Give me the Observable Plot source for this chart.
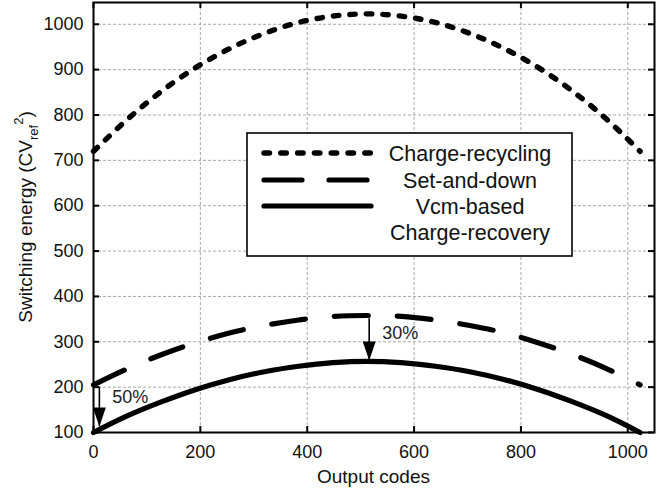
<!DOCTYPE html>
<html>
<head>
<meta charset="utf-8">
<script src="https://cdn.jsdelivr.net/npm/d3@7"></script>
<script src="https://cdn.jsdelivr.net/npm/@observablehq/plot@0.6"></script>
<style>
  html, body { margin: 0; padding: 0; background: #fff; }
  #chart svg { display: block; }
</style>
</head>
<body>
<div id="chart"></div>
<script>
// ---- data ----
const codes      = [0, 64, 128, 192, 256, 320, 384, 448, 512, 576, 640, 704, 768, 832, 896, 960, 1023];
const recycling  = [720, 791, 853, 905, 947, 980, 1004, 1018, 1023, 1018, 1004, 980, 947, 905, 853, 791, 720];
const setAndDown = [205, 241, 272, 298, 320, 336, 348, 356, 358, 356, 348, 336, 320, 298, 272, 241, 205];
const vcmBased   = [100, 137, 168, 195, 217, 234, 246, 254, 257, 254, 246, 234, 217, 195, 168, 137, 100];

const seriesNames = ["Charge-recycling", "Set-and-down", "Vcm-based", "Charge-recovery"];
const xTicks = [0, 200, 400, 600, 800, 1000];
const yTicks = [100, 200, 300, 400, 500, 600, 700, 800, 900, 1000];

// annotations: arrows (x code, start value, tip value) and labels
const arrowX   = [11, 516];
const arrowY1  = [200, 351];
const arrowY2  = [113, 259];
const noteX    = [69, 574];
const noteY    = [177, 318];
const noteText = ["50%", "30%"];

// ---- build tables ----
const tRec = codes.map((c, i) => ({code: c, value: recycling[i]}));
const tSet = codes.map((c, i) => ({code: c, value: setAndDown[i]}));
const tVcm = codes.map((c, i) => ({code: c, value: vcmBased[i]}));
const arrows = arrowX.map((x, i) => ({x, y1: arrowY1[i], y2: arrowY2[i]}));
const notes = noteX.map((x, i) => ({x, y: noteY[i], text: noteText[i]}));

const W = 663, H = 488;
const mL = 93, mR = 9, mT = 2, mB = 56;
const innerW = W - mL - mR, innerH = H - mT - mB;
const tickLen = 6;
const font = "'Liberation Sans', Arial, Helvetica, sans-serif";

const headSymbol = {
  draw(ctx) {
    ctx.moveTo(0, 0);
    ctx.lineTo(-6.5, -19);
    ctx.lineTo(6.5, -19);
    ctx.closePath();
  }
};

const lineStyle = {
  rec: {strokeWidth: 5.4, strokeDasharray: "5.5,11", strokeLinecap: "round"},
  set: {strokeWidth: 5.2, strokeDasharray: "34,29", strokeLinecap: "round"},
  vcm: {strokeWidth: 5.2, strokeLinecap: "round"}
};

const plot = Plot.plot({
  width: W,
  height: H,
  marginLeft: mL,
  marginRight: mR,
  marginTop: mT,
  marginBottom: mB,
  style: {fontFamily: font, background: "white", color: "black"},
  x: {domain: [0, 1050], ticks: xTicks, tickSize: 0, label: null},
  y: {domain: [100, 1048], ticks: yTicks, tickSize: 0, label: null},
  marks: [
    Plot.gridX(xTicks, {stroke: "#a8a8a8", strokeOpacity: 1, strokeWidth: 1, strokeDasharray: "3,2"}),
    Plot.gridY(yTicks, {stroke: "#a8a8a8", strokeOpacity: 1, strokeWidth: 1, strokeDasharray: "3,2"}),
    // inward tick marks on all four sides
    Plot.ruleX(xTicks, {x: d => d, insetTop: innerH - tickLen, stroke: "black", strokeWidth: 2}),
    Plot.ruleX(xTicks, {x: d => d, insetBottom: innerH - tickLen, stroke: "black", strokeWidth: 2}),
    Plot.ruleY(yTicks, {y: d => d, insetRight: innerW - tickLen, stroke: "black", strokeWidth: 2}),
    Plot.ruleY(yTicks, {y: d => d, insetLeft: innerW - tickLen, stroke: "black", strokeWidth: 2}),
    Plot.axisX(xTicks, {tickSize: 0, tickPadding: 13, fontSize: 18, tickFormat: d3.format("d"), label: null, fill: "#111"}),
    Plot.axisY(yTicks, {tickSize: 0, tickPadding: 10, fontSize: 18, tickFormat: d3.format("d"), label: null, fill: "#111"}),
    Plot.line(tRec, {x: "code", y: "value", curve: "catmull-rom", stroke: "black", ...lineStyle.rec}),
    Plot.line(tSet, {x: "code", y: "value", curve: "catmull-rom", stroke: "black", ...lineStyle.set}),
    Plot.line(tVcm, {x: "code", y: "value", curve: "catmull-rom", stroke: "black", ...lineStyle.vcm}),
    Plot.ruleX(arrows, {x: "x", y1: "y1", y2: "y2", stroke: "black", strokeWidth: 1.6}),
    Plot.dot(arrows, {x: "x", y: "y2", symbol: headSymbol, fill: "black", stroke: "none"}),
    Plot.text(notes, {x: "x", y: "y", text: "text", fontSize: 18, fill: "#222"}),
    Plot.frame({stroke: "black", strokeWidth: 2})
  ]
});

document.getElementById("chart").appendChild(plot);

// ---- axis titles and legend drawn into the same svg ----
const svg = d3.select(plot);

// y-axis title with subscript / superscript
const yl = svg.append("text")
  .attr("transform", `translate(25,${mT + innerH / 2}) rotate(-90)`)
  .attr("text-anchor", "middle")
  .attr("dy", "0.35em")
  .attr("font-family", font)
  .attr("font-size", 19)
  .attr("fill", "#111");
yl.append("tspan").text("Switching energy (CV");
yl.append("tspan").attr("dy", 6).attr("font-size", 13).text("ref");
yl.append("tspan").attr("dy", -15).attr("font-size", 13).text("2");
yl.append("tspan").attr("dy", 9).text(")");

// x-axis title
svg.append("text")
  .attr("x", mL + innerW / 2)
  .attr("y", 476)
  .attr("dy", "0.35em")
  .attr("text-anchor", "middle")
  .attr("font-family", font)
  .attr("font-size", 19)
  .attr("fill", "#111")
  .text("Output codes");

// legend
const lg = svg.append("g");
lg.append("rect")
  .attr("x", 247).attr("y", 133).attr("width", 325).attr("height", 123)
  .attr("fill", "white").attr("stroke", "black").attr("stroke-width", 1.6);
const rowY = [153, 180, 206, 232];
const styles = [lineStyle.rec, lineStyle.set, lineStyle.vcm];
const legendDash = ["5.5,11.3", "38,27", null];
styles.forEach((s, i) => {
  lg.append("line")
    .attr("x1", 264).attr("x2", 371)
    .attr("y1", rowY[i]).attr("y2", rowY[i])
    .attr("stroke", "black")
    .attr("stroke-width", s.strokeWidth)
    .attr("stroke-linecap", s.strokeLinecap)
    .attr("stroke-dasharray", legendDash[i]);
});
seriesNames.forEach((name, i) => {
  lg.append("text")
    .attr("x", 470).attr("y", rowY[i]).attr("dy", "0.35em")
    .attr("text-anchor", "middle")
    .attr("font-family", font)
    .attr("font-size", 21.5)
    .attr("fill", "#111")
    .text(name);
});
</script>
</body>
</html>
